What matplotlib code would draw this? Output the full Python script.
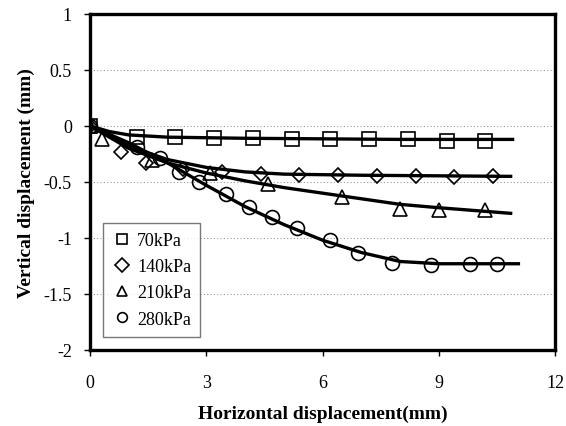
import matplotlib
matplotlib.use("Agg")
import matplotlib.pyplot as plt
import numpy as np

plt.rcParams['font.family'] = ['Liberation Serif', 'DejaVu Serif']

# measured points (horizontal disp, vertical disp) for each pressure
x70 = [0, 1.2, 2.2, 3.2, 4.2, 5.2, 6.2, 7.2, 8.2, 9.2, 10.2]
y70 = [0, -0.10, -0.10, -0.11, -0.11, -0.12, -0.12, -0.12, -0.12, -0.13, -0.13]
x140 = [0, 0.8, 1.45, 2.4, 3.4, 4.4, 5.4, 6.4, 7.4, 8.4, 9.4, 10.4]
y140 = [0, -0.23, -0.33, -0.38, -0.41, -0.43, -0.44, -0.44, -0.45, -0.45, -0.455, -0.45]
x210 = [0, 0.3, 1.6, 3.1, 4.6, 6.5, 8.0, 9.0, 10.2]
y210 = [0, -0.12, -0.30, -0.42, -0.52, -0.63, -0.74, -0.75, -0.75]
x280 = [0, 1.2, 1.8, 2.3, 2.8, 3.5, 4.1, 4.7, 5.35, 6.2, 6.9, 7.8, 8.8, 9.8, 10.5]
y280 = [0, -0.19, -0.29, -0.41, -0.50, -0.61, -0.72, -0.81, -0.91, -1.02, -1.13, -1.22, -1.24, -1.23, -1.23]

# fitted trend curves
fx70 = [0, 0.5, 1, 2, 4, 8, 10.9]
fy70 = [0, -0.05, -0.08, -0.10, -0.11, -0.12, -0.12]
fx140 = [0, 1, 2, 3, 4, 5, 7, 10.85]
fy140 = [0, -0.18, -0.30, -0.37, -0.41, -0.43, -0.44, -0.45]
fx210 = [0, 1, 2, 3, 4, 5, 6, 7, 8, 9, 10.85]
fy210 = [0, -0.20, -0.33, -0.42, -0.49, -0.55, -0.60, -0.65, -0.70, -0.73, -0.78]
fx280 = [0, 1, 2, 3, 4, 5, 6, 7, 8, 9, 11.05]
fy280 = [0, -0.15, -0.33, -0.53, -0.72, -0.88, -1.02, -1.13, -1.21, -1.23, -1.23]

labels = ["70kPa", "140kPa", "210kPa", "280kPa"]
markers = ["s", "D", "^", "o"]
msizes = [10, 7.5, 10, 10]

fig = plt.figure(figsize=(5.66, 4.27), dpi=100)
ax = fig.add_axes([0.159, 0.178, 0.822, 0.787])

pts = [(x70, y70), (x140, y140), (x210, y210), (x280, y280)]
fits = [(fx70, fy70), (fx140, fy140), (fx210, fy210), (fx280, fy280)]
for (px, py), (fx, fy), lab, m, ms in zip(pts, fits, labels, markers, msizes):
    ax.plot(px, py, linestyle="none", marker=m, ms=ms, mfc="none", mec="black",
            mew=1.2, label=lab)
    ax.plot(fx, fy, color="black", lw=2.4)

ax.set_xlim(0, 12)
ax.set_ylim(-2, 1)
ax.set_xticks([0, 3, 6, 9, 12])
ax.set_yticks([1, 0.5, 0, -0.5, -1, -1.5, -2])
ax.set_yticklabels(["1", "0.5", "0", "-0.5", "-1", "-1.5", "-2"])
for yv in [0.5, 0, -0.5, -1, -1.5]:
    ax.axhline(yv, color="#999999", lw=0.8, ls=(0, (1, 2)), zorder=0)

for s in ax.spines.values():
    s.set_linewidth(2.4)
ax.tick_params(axis="x", direction="out", length=4, width=1, pad=13, labelsize=13)
ax.tick_params(axis="y", direction="out", length=4, width=1, pad=9, labelsize=13)

ax.set_xlabel("Horizontal displacement(mm)", fontsize=14, fontweight="bold", labelpad=10)
ax.set_ylabel("Vertical displacement (mm)", fontsize=14, fontweight="bold", labelpad=6)

leg = ax.legend(loc="lower left", bbox_to_anchor=(0.028, 0.04), borderaxespad=0,
                fontsize=13, frameon=True, fancybox=False, handletextpad=0.3,
                labelspacing=0.5, borderpad=0.5, handlelength=1.1)
leg.get_frame().set_edgecolor("#555555")
leg.get_frame().set_linewidth(1)
for h in leg.legend_handles:
    h.set_markersize(7)

fig.savefig("out.png", dpi=100)
